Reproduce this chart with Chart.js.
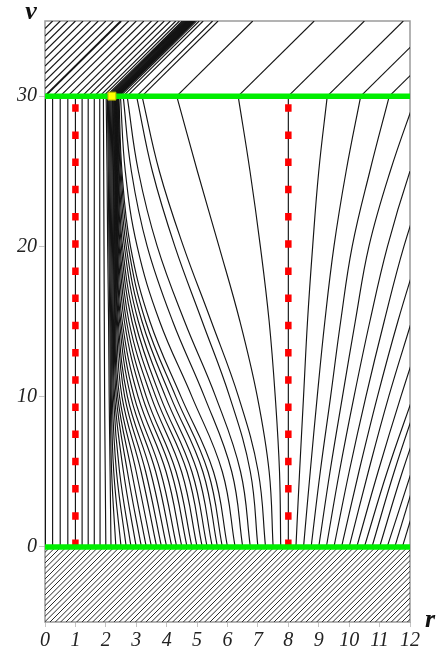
<!DOCTYPE html>
<html>
<head>
<meta charset="utf-8">
<script src="https://cdn.jsdelivr.net/npm/chart.js@4.4.1/dist/chart.umd.min.js"></script>
<style>
  html, body { margin: 0; padding: 0; background: #fff; }
  #wrap { width: 439px; height: 656px; }
</style>
</head>
<body>
<div id="wrap"><canvas id="chart"></canvas></div>
<script>
'use strict';

const levels = [0, 5, 10, 15, 20, 25, 30, 35];

// r of each ray at the levels above; short rows leave through the right edge
const rays = [
    [0, 0, 0, 0, 0, 0, 0, 2.5],
    [0.25, 0.25, 0.25, 0.25, 0.25, 0.25, 0.25, 2.75],
    [0.5, 0.5, 0.5, 0.5, 0.5, 0.5, 0.5, 3.0],
    [0.75, 0.75, 0.75, 0.75, 0.75, 0.75, 0.75, 3.25],
    [1.0, 1.0, 1.0, 1.0, 1.0, 1.0, 1.0, 3.5],
    [1.22, 1.22, 1.22, 1.22, 1.22, 1.22, 1.22, 3.72],
    [1.42, 1.42, 1.42, 1.42, 1.42, 1.42, 1.42, 3.92],
    [1.62, 1.62, 1.62, 1.62, 1.62, 1.62, 1.62, 4.12],
    [1.81, 1.81, 1.81, 1.8, 1.8, 1.8, 1.8, 4.3],
    [2.0, 1.98, 1.96, 1.95, 1.94, 1.93, 1.92, 4.42],
    [2.17, 2.14, 2.11, 2.09, 2.06, 2.04, 2.01, 4.51],
    [2.33, 2.19, 2.15, 2.13, 2.1, 2.08, 2.05, 4.55],
    [2.5, 2.26, 2.18, 2.16, 2.13, 2.11, 2.08, 4.58],
    [2.67, 2.35, 2.21, 2.19, 2.16, 2.14, 2.11, 4.61],
    [2.83, 2.45, 2.25, 2.22, 2.19, 2.17, 2.14, 4.64],
    [3.0, 2.58, 2.29, 2.25, 2.22, 2.2, 2.17, 4.67],
    [3.17, 2.71, 2.34, 2.28, 2.25, 2.23, 2.2, 4.7],
    [3.33, 2.85, 2.39, 2.3, 2.27, 2.25, 2.22, 4.72],
    [3.5, 3.0, 2.45, 2.32, 2.29, 2.27, 2.24, 4.74],
    [3.67, 3.16, 2.53, 2.35, 2.31, 2.29, 2.26, 4.76],
    [3.83, 3.31, 2.62, 2.38, 2.33, 2.31, 2.28, 4.78],
    [4.0, 3.47, 2.71, 2.41, 2.34, 2.32, 2.29, 4.79],
    [4.17, 3.64, 2.82, 2.45, 2.36, 2.33, 2.3, 4.8],
    [4.33, 3.8, 2.93, 2.49, 2.37, 2.34, 2.31, 4.81],
    [4.5, 3.98, 3.06, 2.54, 2.39, 2.35, 2.32, 4.82],
    [4.67, 4.15, 3.2, 2.61, 2.41, 2.36, 2.33, 4.83],
    [4.83, 4.31, 3.33, 2.68, 2.44, 2.37, 2.34, 4.84],
    [5.0, 4.49, 3.49, 2.76, 2.47, 2.38, 2.35, 4.85],
    [5.17, 4.67, 3.64, 2.86, 2.51, 2.4, 2.36, 4.86],
    [5.33, 4.83, 3.79, 2.96, 2.55, 2.42, 2.37, 4.87],
    [5.5, 5.01, 3.96, 3.07, 2.61, 2.44, 2.39, 4.89],
    [5.67, 5.19, 4.13, 3.19, 2.67, 2.47, 2.4, 4.9],
    [5.83, 5.36, 4.3, 3.31, 2.74, 2.5, 2.41, 4.91],
    [6.0, 5.54, 4.47, 3.45, 2.81, 2.53, 2.43, 4.93],
    [6.25, 5.83, 4.83, 3.77, 3.03, 2.64, 2.48, 4.98],
    [6.5, 6.14, 5.24, 4.2, 3.36, 2.84, 2.57, 5.07],
    [6.75, 6.43, 5.61, 4.59, 3.69, 3.07, 2.7, 5.2],
    [7.0, 6.75, 6.07, 5.17, 4.27, 3.53, 3.01, 5.51],
    [7.25, 7.01, 6.36, 5.47, 4.55, 3.76, 3.19, 5.69],
    [7.5, 7.37, 6.98, 6.41, 5.72, 5.01, 4.33, 6.83],
    [7.75, 7.71, 7.57, 7.37, 7.08, 6.74, 6.35, 8.85],
    [8.0, 8.0, 8.0, 8.0, 8.0, 8.0, 8.0, 10.5],
    [8.25, 8.37, 8.5, 8.63, 8.8, 9.0, 9.28, 11.78],
    [8.5, 8.72, 8.95, 9.2, 9.5, 9.9, 10.38, 12.88],
    [8.75, 9.05, 9.39, 9.72, 10.1, 10.68, 11.32, 13.82],
    [9.0, 9.37, 9.78, 10.2, 10.65, 11.35, 12.2],
    [9.25, 9.68, 10.16, 10.68, 11.26, 12.0, 12.9],
    [9.5, 10.0, 10.55, 11.15, 11.8, 12.6],
    [9.75, 10.32, 10.93, 11.6, 12.35],
    [10.0, 10.63, 11.3, 12.05],
    [10.25, 10.95, 11.7, 12.5],
    [10.5, 11.25, 12.1],
    [10.75, 11.48, 12.3],
    [11.0, 11.75, 12.6],
    [11.25, 12.05],
    [11.5, 12.25],
    [11.75, 12.5],
    [12.0, 12.75]
];

// lines leaving the left edge above v = 30, and where they meet the top edge
const edgeV = [30.5, 31, 31.5, 32, 32.5, 33, 33.5, 34, 34.5];
const edgeTopR = [2.25, 2.0, 1.75, 1.5, 1.25, 1.0, 0.75, 0.5, 0.25];

const shellV = [0, 30];      // green lines
const markerR = [1, 8];      // red dashed lines
const pointR = [2.2];        // yellow square
const pointV = [30];

const rTicks = [0, 1, 2, 3, 4, 5, 6, 7, 8, 9, 10, 11, 12];
const vTicks = [0, 10, 20, 30];

const serif = "'Liberation Serif', 'Times New Roman', serif";
const rayColor = '#141414';

function hatchPattern() {
    const s = 16;
    const c = document.createElement('canvas');
    c.width = s;
    c.height = s;
    const g = c.getContext('2d');
    g.strokeStyle = '#2a2a2a';
    g.lineWidth = 1;
    for (let k = -3; k <= 3; k++) {
        const a = k * s / 3;
        g.beginPath();
        g.moveTo(a, s);
        g.lineTo(a + s, 0);
        g.stroke();
    }
    return g.createPattern(c, 'repeat');
}

let datasets = [];

// hatched strip below v = 0
datasets.push({
    data: [{x: 0, y: shellV[0]}, {x: 12, y: shellV[0]}],
    showLine: true, fill: 'start', backgroundColor: hatchPattern(),
    borderWidth: 0, pointRadius: 0, order: 9
});

rays.forEach((row, i) => {
    let pts = row.slice(0, 7).map((r, k) => ({x: r, y: levels[k]}));
    datasets.push({
        data: pts, showLine: true, borderColor: rayColor,
        borderWidth: i === 0 ? 2 : 1.15, pointRadius: 0, tension: 0.4, order: 8
    });
    if (row.length === 8) {
        datasets.push({
            data: [{x: row[6], y: levels[6]}, {x: row[7], y: levels[7]}],
            showLine: true, borderColor: rayColor,
            borderWidth: i === 0 ? 2 : 1.15, pointRadius: 0, order: 8
        });
    }
});

edgeV.forEach((v, i) => {
    datasets.push({
        data: [{x: 0, y: v}, {x: edgeTopR[i], y: levels[7]}],
        showLine: true, borderColor: rayColor, borderWidth: 1.15, pointRadius: 0, order: 8
    });
});

markerR.forEach(r => {
    datasets.push({
        data: [{x: r, y: shellV[0]}, {x: r, y: shellV[1]}],
        showLine: true, borderColor: '#ff0000', borderWidth: 6.5,
        borderDash: [7.5, 19.7], borderCapStyle: 'butt', pointRadius: 0, order: 3
    });
});

shellV.forEach(v => {
    datasets.push({
        data: [{x: 0, y: v}, {x: 12, y: v}],
        showLine: true, borderColor: '#00ee00', borderWidth: 5.5, pointRadius: 0, order: 2
    });
});

datasets.push({
    data: pointR.map((r, i) => ({x: r, y: pointV[i]})),
    showLine: false, pointStyle: 'rect', pointRadius: 5.6,
    backgroundColor: '#ffff00', borderColor: '#b5b500', borderWidth: 1, order: 1
});

const frame = {
    id: 'frame',
    beforeDatasetsDraw(chart) {
        const {ctx, chartArea: a} = chart;
        ctx.save();
        ctx.strokeStyle = '#9a9a9a';
        ctx.lineWidth = 1.5;
        ctx.strokeRect(a.left, a.top, a.right - a.left, a.bottom - a.top);
        ctx.restore();
    },
    afterDraw(chart) {
        const ctx = chart.ctx;
        ctx.save();
        ctx.fillStyle = '#111';
        ctx.font = 'italic bold 26px ' + serif;
        ctx.textAlign = 'center';
        ctx.textBaseline = 'alphabetic';
        ctx.fillText('v', 31, 19);
        ctx.fillText('r', 430, 627);
        ctx.restore();
    }
};

const tickFont = {family: serif, size: 20, style: 'italic'};

new Chart(document.getElementById('chart'), {
    type: 'scatter',
    data: {datasets: datasets},
    options: {
        responsive: true,
        maintainAspectRatio: false,
        animation: false,
        events: [],
        layout: {padding: {top: 21, right: 29, left: 0, bottom: 0}},
        plugins: {legend: {display: false}, tooltip: {enabled: false}},
        scales: {
            x: {
                type: 'linear', min: 0, max: 12,
                afterBuildTicks: s => { s.ticks = rTicks.map(v => ({value: v})); },
                afterFit: s => { s.height = 34; },
                grid: {drawOnChartArea: false, color: '#c4c4c4', tickLength: 5},
                border: {display: false},
                ticks: {font: tickFont, color: '#222', padding: 2, autoSkip: false, maxRotation: 0}
            },
            y: {
                type: 'linear', min: -5, max: 35,
                afterBuildTicks: s => { s.ticks = vTicks.map(v => ({value: v})); },
                afterFit: s => { s.width = 45; },
                grid: {drawOnChartArea: false, color: '#c4c4c4', tickLength: 6},
                border: {display: false},
                ticks: {font: tickFont, color: '#222', padding: 2}
            }
        }
    },
    plugins: [frame]
});
</script>
</body>
</html>
